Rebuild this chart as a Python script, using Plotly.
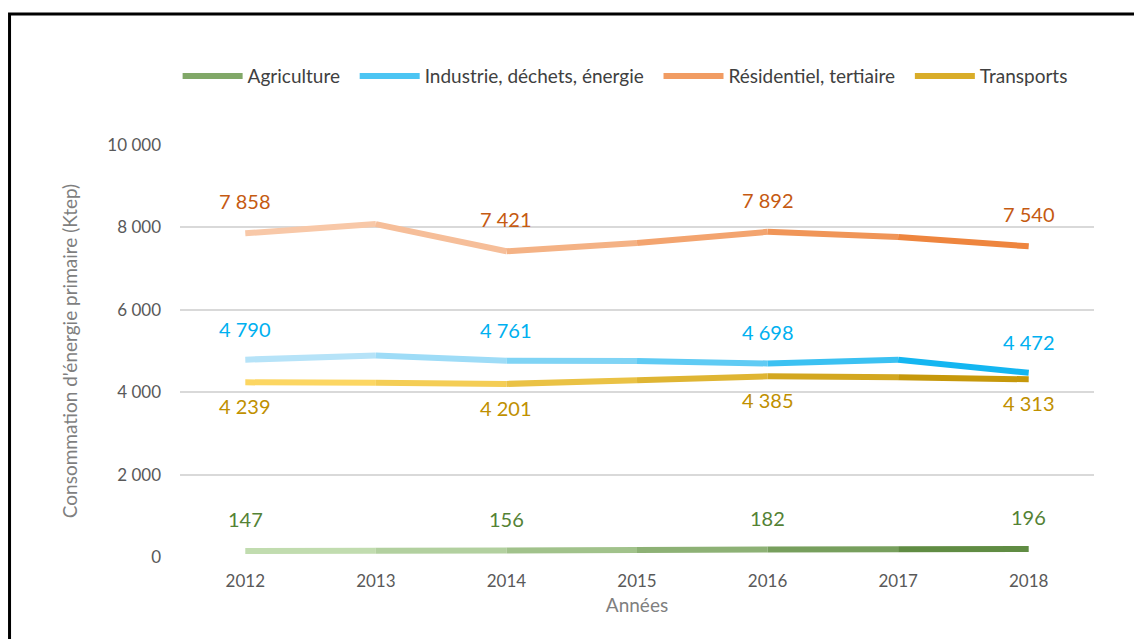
import plotly.graph_objects as go

years = [2012, 2013, 2014, 2015, 2016, 2017, 2018]
agriculture = [147, 150, 156, 170, 182, 190, 196]
industrie = [4790, 4890, 4761, 4755, 4698, 4785, 4472]
residentiel = [7858, 8080, 7421, 7620, 7892, 7765, 7540]
transports = [4239, 4230, 4201, 4290, 4385, 4360, 4313]

labeled_years = [2012, 2014, 2016, 2018]

series = [
    # name, values, light, dark, label color, label shift (px)
    ("Agriculture", agriculture, "#C5E0B4", "#548235", "#548235", 32),
    ("Industrie, déchets, énergie", industrie, "#BDE5F8", "#00B0F0", "#00B0F0", 31),
    ("Résidentiel, tertiaire", residentiel, "#F8CBAD", "#ED7D31", "#C55A11", 32),
    ("Transports", transports, "#FFD966", "#BF9000", "#BF9000", -24),
]

FONT = "Lato"
NBSP = "\u00a0"


def hex_to_rgb(h):
    h = h.lstrip("#")
    return tuple(int(h[i:i + 2], 16) for i in (0, 2, 4))


def mix(c0, c1, t):
    a, b = hex_to_rgb(c0), hex_to_rgb(c1)
    r = [round(a[k] + (b[k] - a[k]) * t) for k in range(3)]
    return f"rgb({r[0]},{r[1]},{r[2]})"


fig = go.Figure()
annotations = []

n = len(years)
for k, (name, vals, light, dark, lab_col, shift) in enumerate(series):
    # gradient line drawn segment by segment
    for i in range(n - 1):
        t = ((i + 0.5) / (n - 1)) ** 1.3
        fig.add_trace(go.Scatter(
            x=[years[i], years[i + 1]], y=[vals[i], vals[i + 1]],
            mode="lines", line=dict(color=mix(light, dark, t), width=6),
            showlegend=False, hoverinfo="skip"))
    # legend entry
    pad = NBSP * 2 if k < len(series) - 1 else ""
    fig.add_trace(go.Scatter(
        x=[None], y=[None], mode="lines", name=name + pad,
        line=dict(color=mix(light, dark, 0.6), width=6)))
    # data labels
    for yr, v in zip(years, vals):
        if yr in labeled_years:
            annotations.append(dict(
                x=yr, y=v, xref="x", yref="y", text=f"{v:,}".replace(",", " "),
                showarrow=False, yshift=shift, xanchor="center", yanchor="middle",
                font=dict(family=FONT, size=20, color=lab_col)))

fig.update_layout(
    width=1142, height=639,
    margin=dict(l=172, r=56, t=137, b=90),
    paper_bgcolor="white", plot_bgcolor="white",
    separators=", ",
    font=dict(family=FONT, color="#595959"),
    legend=dict(orientation="h", x=0.487, xanchor="center", y=1.167, yanchor="middle",
                font=dict(family=FONT, size=19, color="#404040"),
                itemwidth=60),
    xaxis=dict(range=[2011.5, 2018.5], tickvals=years, ticktext=[str(y) for y in years],
               showgrid=False, zeroline=False, showline=False,
               tickfont=dict(size=17, color="#595959"), ticklabelstandoff=12,
               title=dict(text="Années", font=dict(size=19, color="#7F7F7F"), standoff=8)),
    yaxis=dict(range=[0, 10000], dtick=2000, tickformat=",",
               showgrid=True, gridcolor="#D9D9D9", gridwidth=1.5,
               zeroline=False, showline=False,
               tickfont=dict(size=17, color="#595959"), ticklabelstandoff=18,
               title=dict(text="Consommation d'énergie primaire (Ktep)",
                          font=dict(size=19, color="#7F7F7F"), standoff=24)),
    annotations=annotations,
    shapes=[dict(type="rect", xref="paper", yref="paper",
                 x0=-0.1865, x1=1.07, y0=-0.25, y1=1.318,
                 line=dict(color="black", width=3), layer="above")],
)

fig.write_html("out.html")
